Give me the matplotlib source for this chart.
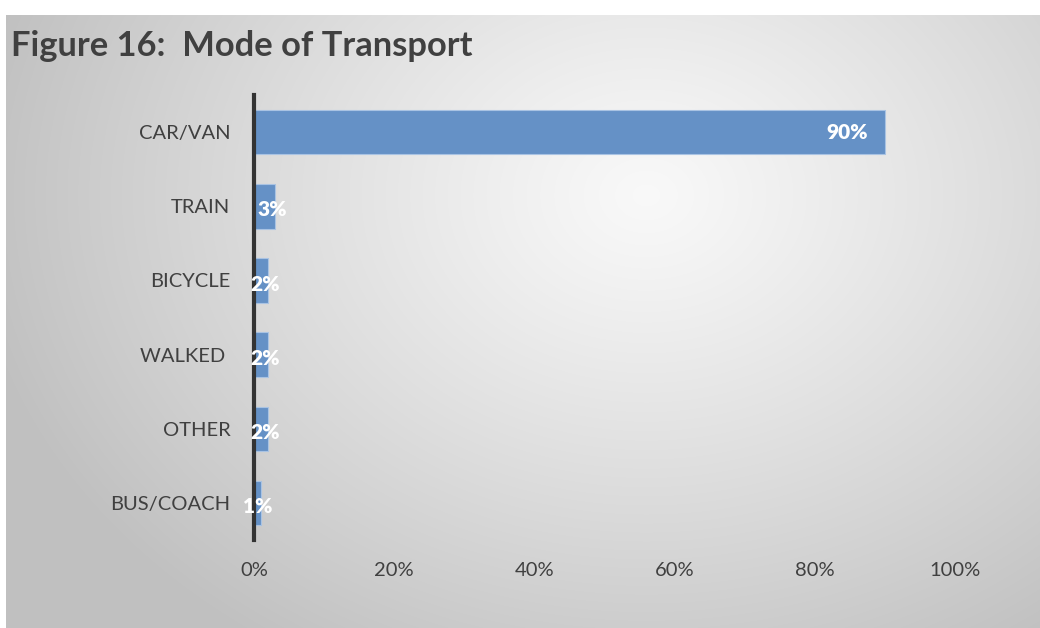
import numpy as np
import matplotlib
matplotlib.use("Agg")
import matplotlib.pyplot as plt

categories = ["CAR/VAN", "TRAIN", "BICYCLE", "WALKED ", "OTHER", "BUS/COACH"]
shares = [90, 3, 2, 2, 2, 1]
value_labels = ["90%", "3%", "2%", "2%", "2%", "1%"]
x_ticks = [0, 20, 40, 60, 80, 100]
x_tick_labels = ["0%", "20%", "40%", "60%", "80%", "100%"]

FONT = "Lato"
W, H = 1040, 628
fig = plt.figure(figsize=(W / 100, H / 100), dpi=100)
fig.patch.set_facecolor("white")

# Chart area with a soft radial grey gradient
bg_left, bg_bottom, bg_right, bg_top = 6, 0, 1040, 613
bg = fig.add_axes([bg_left / W, bg_bottom / H, (bg_right - bg_left) / W, (bg_top - bg_bottom) / H])
gw, gh = bg_right - bg_left, bg_top - bg_bottom
yy, xx = np.mgrid[0:gh, 0:gw]
cx, cy = 640, 180  # from top-left of chart area
d = np.sqrt(((xx - cx) / 680.0) ** 2 + ((yy - cy) / 540.0) ** 2)
d = np.clip(d, 0, 1)
shade = 0.975 - 0.22 * d ** 1.15
img = np.dstack([shade, shade, shade])
bg.imshow(img, aspect="auto", extent=[0, gw, gh, 0], interpolation="bilinear")
bg.set_xlim(0, gw)
bg.set_ylim(gh, 0)
bg.axis("off")

fig.text(11 / W, 1 - 46 / H, "Figure 16:  Mode of Transport", fontsize=24.8,
         fontweight="bold", color="#404040", family=FONT, va="center", ha="left")

ax_l, ax_r, ax_t, ax_b = 254, 955, 95, 540
ax = fig.add_axes([ax_l / W, 1 - ax_b / H, (ax_r - ax_l) / W, (ax_b - ax_t) / H])
ax.patch.set_alpha(0)

ypos = np.arange(len(categories))
ax.barh(ypos, shares, height=0.6, color="#6591c6", edgecolor="#a9c3e3", linewidth=0.8, zorder=2)
ax.set_xlim(0, 100)
ax.set_ylim(len(categories) - 0.5, -0.5)

ax.set_yticks(ypos)
ax.set_yticklabels(categories)
ax.set_xticks(x_ticks)
ax.set_xticklabels(x_tick_labels)
ax.tick_params(axis="both", length=0, labelsize=14.5, labelcolor="#404040")
ax.tick_params(axis="y", pad=17)
ax.tick_params(axis="x", pad=16)
for lbl in ax.get_xticklabels() + ax.get_yticklabels():
    lbl.set_family(FONT)

for s in ["top", "right", "bottom"]:
    ax.spines[s].set_visible(False)
ax.spines["left"].set_color("#333333")
ax.spines["left"].set_linewidth(3)
ax.spines["left"].set_zorder(3)

for y, v, t in zip(ypos, shares, value_labels):
    if v > 10:
        ax.text(v - 2.4, y, t, ha="right", va="center", color="white",
                fontsize=15, fontweight="heavy", family=FONT, zorder=4)
    else:
        ax.text(v - 0.4, y + 0.05, t, ha="center", va="center", color="white",
                fontsize=15, fontweight="heavy", family=FONT, zorder=4)

fig.savefig("out.png", dpi=100)
